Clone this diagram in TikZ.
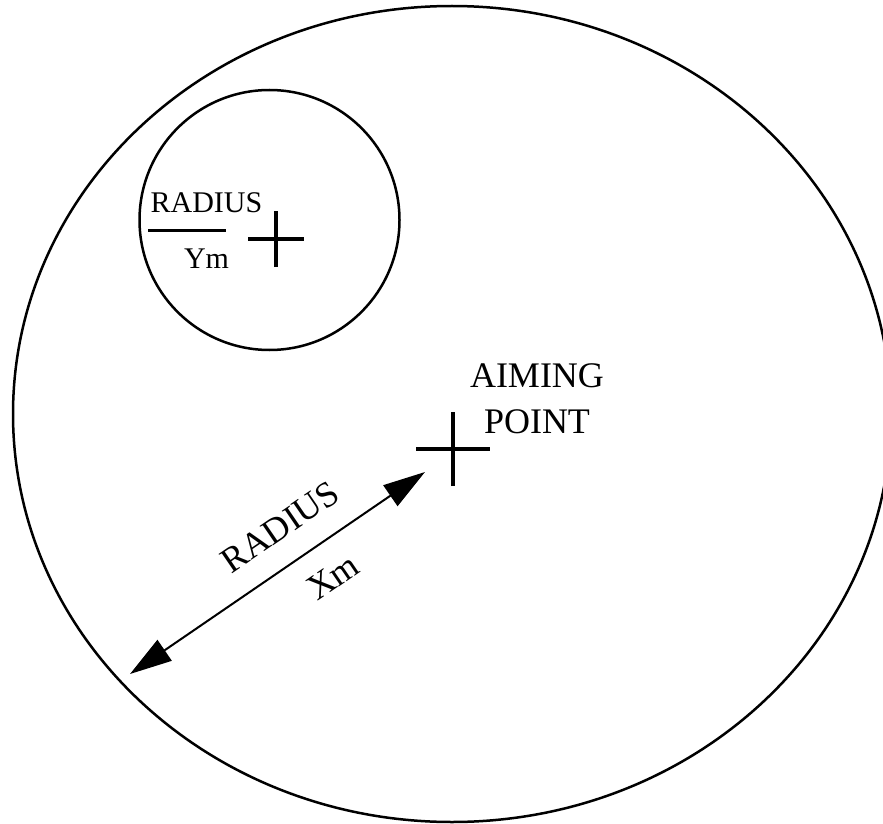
\documentclass[tikz,border=0pt]{standalone}
\usepackage{fontspec}
\setmainfont{Liberation Serif}
\usetikzlibrary{arrows.meta,positioning}

\begin{document}
\begin{tikzpicture}[x=1pt, y=-1pt, line width=2.5pt, font=\fontsize{36}{46}\selectfont]
\tikzstyle{lbl}=[inner sep=0pt, align=center]
\tikzstyle{small}=[lbl, font=\fontsize{30}{36}\selectfont]
\tikzstyle{cross}=[line width=3.5pt]
\useasboundingbox (0,0) rectangle (883,824);
% target areas
\draw (452,414) ellipse [x radius=439, y radius=408];
\draw (269.5,220) circle [radius=130];
\coordinate (ycross) at (276,239);
\coordinate (aim) at (453,449);
\draw[cross] ([xshift=-28pt]ycross) -- ([xshift=28pt]ycross) ([yshift=-28pt]ycross) -- ([yshift=28pt]ycross);
\draw[cross] ([xshift=-37pt]aim) -- ([xshift=37pt]aim) ([yshift=-37pt]aim) -- ([yshift=37pt]aim);
% labels
\node[lbl, anchor=north] (aimtxt) at (537,362) {AIMING\\POINT};
\node[small, anchor=base] (ytop) at (206.5,212.7) {RADIUS};
\node[small, anchor=base] (ybot) at (206.5,268) {Ym};
\draw[line width=3pt] (148,230) -- (226,230);
% radius arrow
\coordinate (rim) at (130,674);
\coordinate (tip) at (425,472);
\draw[{Triangle[length=42pt,width=25pt]}-{Triangle[length=42pt,width=25pt]}, line width=2pt] (rim) -- (tip);
\node[lbl, rotate=34.4] (xlab) at (280,527) {RADIUS};
\node[lbl, rotate=34.4] (xm) at (333,577) {Xm};
\end{tikzpicture}
\end{document}
